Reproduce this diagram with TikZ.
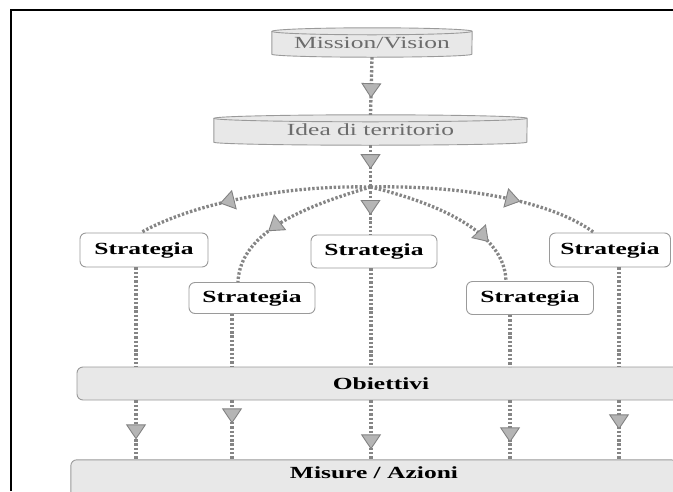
\documentclass[tikz,border=0pt]{standalone}
\usepackage{fontspec}
\setmainfont[FakeStretch=1.5]{Liberation Serif}
\usetikzlibrary{arrows.meta,decorations.markings,backgrounds}

\definecolor{lineg}{HTML}{858585}
\definecolor{tipfill}{HTML}{B5B5B5}
\definecolor{tipdraw}{HTML}{828282}
\definecolor{boxfill}{HTML}{E8E8E8}
\definecolor{boxdraw}{HTML}{9A9A9A}
\definecolor{titletext}{HTML}{6C6C6C}

\begin{document}
\begin{tikzpicture}[x=1pt,y=1pt,
  dotline/.style={draw=lineg, line width=3.3pt, dash pattern=on 2.4pt off 1.9pt},
  tipat/.style={postaction={decorate}, decoration={markings, mark=at position #1 with {\arrow{Triangle[width=20pt,length=15pt,fill=tipfill,color=tipdraw,line width=0.9pt]}}}},
  disktext/.style={inner sep=0pt, text=titletext, font=\fontsize{17}{20}\selectfont},
  diskbody/.style={draw=boxdraw, fill=boxfill, line width=0.9pt},
  stratbox/.style={draw=boxdraw, fill=white, line width=0.9pt, rounded corners=6pt, inner sep=0pt, font=\fontsize{17}{20}\selectfont\bfseries},
  levelbox/.style={draw=boxdraw, fill=boxfill, line width=0.9pt, rounded corners=6pt},
  leveltext/.style={inner sep=0pt, font=\fontsize{17}{20}\selectfont\bfseries}
]
\useasboundingbox (0,0) rectangle (673,-491);
\clip (0,0) rectangle (673,-491);

% disk nodes
\node[disktext, minimum width=200pt, minimum height=29pt] (mv) at (372,-42.5) {Mission/Vision};
\node[disktext, minimum width=313pt, minimum height=30pt] (idea) at (370.5,-130) {Idea di territorio};
\begin{scope}[on background layer]
  \foreach \n/\r in {mv/100, idea/156.5} {
    \path[diskbody] ([yshift=-3.5pt]\n.north west) -- ([yshift=3pt]\n.south west)
      arc[start angle=180, end angle=360, x radius=\r, y radius=3]
      -- ([yshift=-3.5pt]\n.north east)
      arc[start angle=0, end angle=180, x radius=\r, y radius=3.5] -- cycle;
    \draw[draw=boxdraw, line width=0.9pt] ([yshift=-3.5pt]\n.north west)
      arc[start angle=180, end angle=360, x radius=\r, y radius=3.5];
  }
\end{scope}

% strategy boxes
\node[stratbox, minimum width=128pt, minimum height=34pt] (s1) at (144,-250) {Strategia};
\node[stratbox, minimum width=126pt, minimum height=31pt] (s2) at (252,-298) {Strategia};
\node[stratbox, minimum width=126pt, minimum height=33pt] (s3) at (374,-251.5) {Strategia};
\node[stratbox, minimum width=127pt, minimum height=33pt] (s4) at (530,-298) {Strategia};
\node[stratbox, minimum width=121pt, minimum height=34pt] (s5) at (610,-250) {Strategia};

% level boxes
\node[levelbox, leveltext, minimum width=608pt, minimum height=33pt] (obj) at (381,-383.5) {Obiettivi};
\node[leveltext, minimum width=606pt, minimum height=26pt] (misure) at (374,-473) {Misure / Azioni};
\begin{scope}[on background layer]
  \path[levelbox] (misure.north west) rectangle ([yshift=-30pt]misure.south east);
\end{scope}

% top connectors
\coordinate (hub) at (370.5,-187);
\draw[dotline, tipat=41pt] (mv.south) -- (idea.north);
\draw[dotline, tipat=24pt] (idea.south) -- (hub);
\draw[dotline, tipat=28pt] (hub) -- (hub |- s3.north);
\draw[dotline, tipat=152pt] (hub) .. controls (280,-185) and (190,-205) .. ([xshift=-3pt]s1.north);
\draw[dotline, tipat=112pt] (hub) .. controls (310,-205) and (240,-230) .. ([xshift=-14pt]s2.north);
\draw[dotline, tipat=132pt] (hub) .. controls (445,-205) and (505,-235) .. ([xshift=-24pt]s4.north);
\draw[dotline, tipat=151pt] (hub) .. controls (460,-185) and (550,-200) .. ([xshift=-16pt]s5.north);

% vertical connectors
\coordinate (l1) at ([xshift=-8pt]s1.south);
\coordinate (l2) at ([xshift=-20pt]s2.south);
\coordinate (l3) at ([xshift=-3pt]s3.south);
\coordinate (l4) at ([xshift=-20pt]s4.south);
\coordinate (l5) at ([xshift=9pt]s5.south);
\foreach \l/\d in {l1/39pt, l2/23pt, l3/49pt, l4/42pt, l5/29pt} {
  \draw[dotline] (\l) -- (\l |- obj.north);
  \draw[dotline, tipat=\d] (\l |- obj.south) -- (\l |- misure.north);
}

% frame
\draw[line width=1.3pt] (11,-491) -- (11,-10) -- (673,-10);
\end{tikzpicture}
\end{document}
